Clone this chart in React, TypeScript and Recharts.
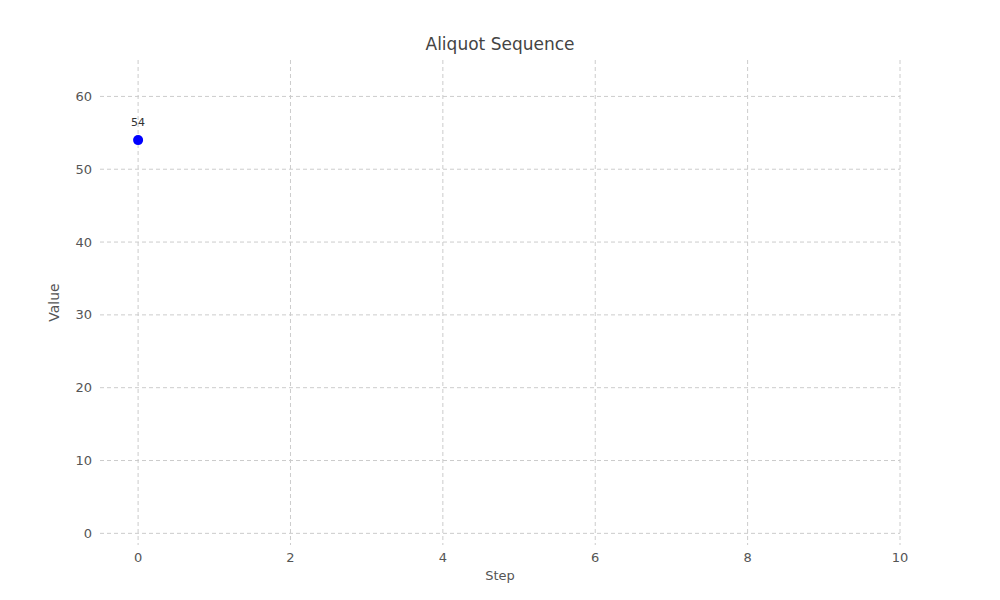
import React from "react";
import { ScatterChart, Scatter, XAxis, YAxis, CartesianGrid, LabelList, Label } from "recharts";

// Aliquot sequence of 54 (only the first step shown)
const steps = [0];
const values = [54];
const xTicks = [0, 2, 4, 6, 8, 10];
const yTicks = [0, 10, 20, 30, 40, 50, 60];

const data = steps.map((s, i) => ({ step: s, value: values[i] }));

export default function App() {
  return (
    <div style={{ position: "absolute", top: 0, left: 0, width: 1000, height: 600, background: "#fff", fontFamily: "DejaVu Sans" }}>
      <div style={{ position: "absolute", top: 34, width: 1000, textAlign: "center", fontSize: 17, color: "#444" }}>
        Aliquot Sequence
      </div>
      <ScatterChart width={1000} height={600} margin={{ top: 60, right: 100, bottom: 20, left: 40 }}>
        <CartesianGrid stroke="#cccccc" strokeDasharray="4 3" syncWithTicks />
        <XAxis
          type="number"
          dataKey="step"
          domain={[-0.5, 10]}
          ticks={xTicks}
          axisLine={false}
          tickLine={false}
          tick={{ fontSize: 13, fill: "#555" }}
          height={35}
        >
          <Label value="Step" position="insideBottom" offset={0} style={{ fontSize: 13, fill: "#555" }} />
        </XAxis>
        <YAxis
          type="number"
          dataKey="value"
          domain={[-1.6, 65]}
          ticks={yTicks}
          axisLine={false}
          tickLine={false}
          tick={{ fontSize: 13, fill: "#555" }}
          width={60}
        >
          <Label value="Value" angle={-90} position="insideLeft" offset={14} style={{ fontSize: 14, fill: "#555", textAnchor: "middle" }} />
        </YAxis>
        <Scatter data={data} fill="#0000ff" isAnimationActive={false} shape={(p: any) => <circle cx={p.cx} cy={p.cy} r={5} fill="#0000ff" />}>
          <LabelList dataKey="value" position="top" offset={10} style={{ fontSize: 11, fill: "#333" }} />
        </Scatter>
      </ScatterChart>
    </div>
  );
}
